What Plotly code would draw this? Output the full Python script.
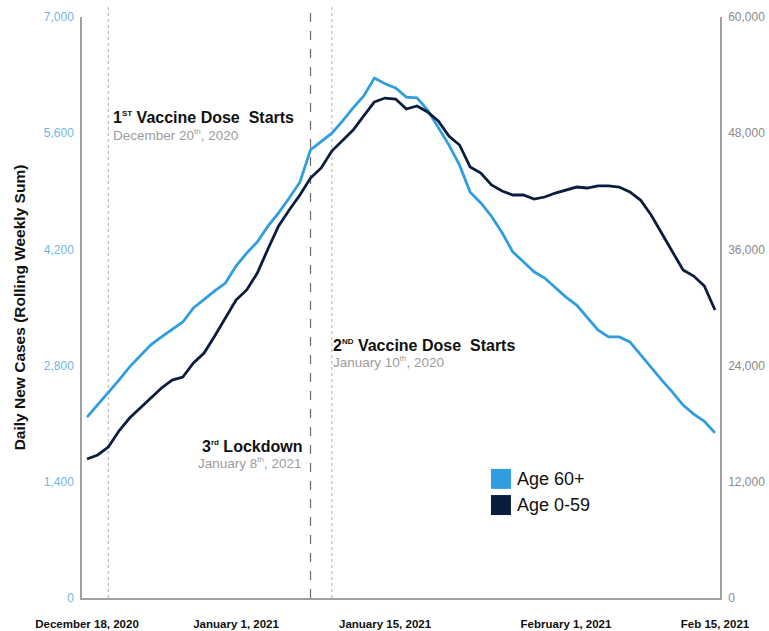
import plotly.graph_objects as go
import pandas as pd

# ---- data ----
dates = pd.date_range("2020-12-18", "2021-02-15", freq="D")

age_60_plus = [2180, 2325, 2480, 2625, 2785, 2915, 3050, 3145, 3240, 3325,
               3495, 3600, 3700, 3795, 4000, 4155, 4290, 4480, 4640, 4820,
               5010, 5400, 5495, 5600, 5745, 5905, 6050, 6265, 6195, 6145,
               6035, 6025, 5880, 5675, 5460, 5215, 4890, 4760, 4600, 4400,
               4170, 4050, 3930, 3855, 3745, 3625, 3530, 3375, 3230, 3145,
               3145, 3085, 2930, 2770, 2625, 2480, 2325, 2215, 2130, 1990]

age_0_59 = [14350, 14770, 15590, 17250, 18590, 19620, 20650, 21690, 22510, 22820,
            24270, 25300, 27060, 28920, 30770, 31810, 33560, 36040, 38420, 40070,
            41620, 43370, 44410, 46160, 47300, 48330, 49780, 51220, 51630, 51530,
            50500, 50810, 50190, 49260, 47710, 46780, 44510, 43890, 42650, 42030,
            41620, 41620, 41200, 41410, 41820, 42130, 42440, 42340, 42550, 42550,
            42440, 41930, 41100, 39550, 37690, 35840, 33870, 33250, 32220, 29740]

series_names = ["Age 60+", "Age 0-59"]
series_colors = ["#2f9de0", "#0b1d3e"]

x_tick_vals = ["2020-12-18", "2021-01-01", "2021-01-15", "2021-02-01", "2021-02-15"]
x_tick_text = ["December 18, 2020", "January 1, 2021", "January 15, 2021",
               "February 1, 2021", "Feb 15, 2021"]

left_ticks = [0, 1400, 2800, 4200, 5600, 7000]
right_ticks = [0, 12000, 24000, 36000, 48000, 60000]

event_dates = ["2020-12-20", "2021-01-08", "2021-01-10"]
SUP = "<sup><span style='font-size:8px'>{}</span></sup>"
event_titles = ["1" + SUP.format("ST") + " Vaccine Dose  Starts",
                "3" + SUP.format("rd") + " Lockdown",
                "2" + SUP.format("ND") + " Vaccine Dose  Starts"]
event_subtitles = ["December 20" + SUP.format("th") + ", 2020",
                   "January 8" + SUP.format("th") + ", 2021",
                   "January 10" + SUP.format("th") + ", 2020"]

FONT = "Liberation Sans"

fig = go.Figure()

fig.add_trace(go.Scatter(x=dates, y=age_60_plus, mode="lines", name=series_names[0],
                         line=dict(color=series_colors[0], width=2.8),
                         showlegend=False, yaxis="y"))
fig.add_trace(go.Scatter(x=dates, y=age_0_59, mode="lines", name=series_names[1],
                         line=dict(color=series_colors[1], width=2.8),
                         showlegend=False, yaxis="y2"))

# event lines
line_styles = [dict(color="#b0b0b0", width=1, dash="dot"),
               dict(color="#6a6a6a", width=1.2, dash="dash"),
               dict(color="#b0b0b0", width=1, dash="dot")]
for d, st in zip(event_dates, line_styles):
    fig.add_shape(type="line", xref="x", yref="paper", x0=d, x1=d, y0=0, y1=1.02,
                  line=st, layer="below")

# event annotations: (date, anchor, xshift, title y, subtitle y) in paper coords
ann_cfg = [
    (event_dates[0], "left", 3, 0.827, 0.797),
    (event_dates[1], "right", -7, 0.261, 0.233),
    (event_dates[2], "left", -1, 0.435, 0.407),
]
for (d, anc, xs, ty, sy), t, s in zip(ann_cfg, event_titles, event_subtitles):
    fig.add_annotation(x=d, y=ty, xref="x", yref="paper", text="<b>" + t + "</b>",
                       showarrow=False, xanchor=anc, yanchor="middle", xshift=xs,
                       font=dict(family=FONT, size=16, color="#111111"))
    fig.add_annotation(x=d, y=sy, xref="x", yref="paper", text=s,
                       showarrow=False, xanchor=anc, yanchor="middle", xshift=xs,
                       font=dict(family=FONT, size=13.5, color="#9c9c9c"))

# custom legend (square swatches)
leg_x0 = 0.641   # paper x of swatch left edge
leg_ys = [0.205, 0.160]  # paper y of row centres
sw_w = 20 / 638
sw_h = 20 / 581
for name, col, yc in zip(series_names, series_colors, leg_ys):
    fig.add_shape(type="rect", xref="paper", yref="paper",
                  x0=leg_x0, x1=leg_x0 + sw_w, y0=yc - sw_h / 2, y1=yc + sw_h / 2,
                  fillcolor=col, line=dict(width=0))
    fig.add_annotation(x=leg_x0 + sw_w, y=yc, xref="paper", yref="paper",
                       text=name, showarrow=False, xanchor="left", yanchor="middle",
                       xshift=4, font=dict(family=FONT, size=18, color="#111111"))

fig.update_layout(
    width=769, height=631,
    margin=dict(l=82, r=49, t=17, b=33),
    paper_bgcolor="white", plot_bgcolor="white",
    font=dict(family=FONT),
    showlegend=False,
    xaxis=dict(range=["2020-12-17 12:42", "2021-02-15 11:17"],
               tickvals=x_tick_vals, ticktext=x_tick_text,
               tickfont=dict(family=FONT, size=11.5, color="#111111", weight="bold"),
               showline=True, linecolor="#a0a0a0", linewidth=1.5,
               showgrid=False, zeroline=False, ticks="", ticklabelstandoff=14,
               automargin=False),
    yaxis=dict(range=[0, 7000], tickvals=left_ticks, tickformat=",",
               tickfont=dict(family=FONT, size=12, color="#6fb6e4"),
               showline=True, linecolor="#a0a0a0", linewidth=1.5,
               showgrid=False, zeroline=False, ticks="", ticklabelstandoff=4,
               automargin=False,
               title=dict(text="<b>Daily New Cases (Rolling Weekly Sum)</b>",
                          font=dict(family=FONT, size=15.5, color="#111111"),
                          standoff=14)),
    yaxis2=dict(range=[0, 60000], tickvals=right_ticks, tickformat=",",
                overlaying="y", side="right",
                tickfont=dict(family=FONT, size=12, color="#8a8a8a"),
                showline=True, linecolor="#a0a0a0", linewidth=1.5,
                showgrid=False, zeroline=False, ticks="", ticklabelstandoff=4,
                automargin=False),
)

fig.write_html("out.html",
               config={"displayModeBar": False},
               post_script="document.body.style.margin='0';"
                           "document.body.style.overflow='hidden';")
